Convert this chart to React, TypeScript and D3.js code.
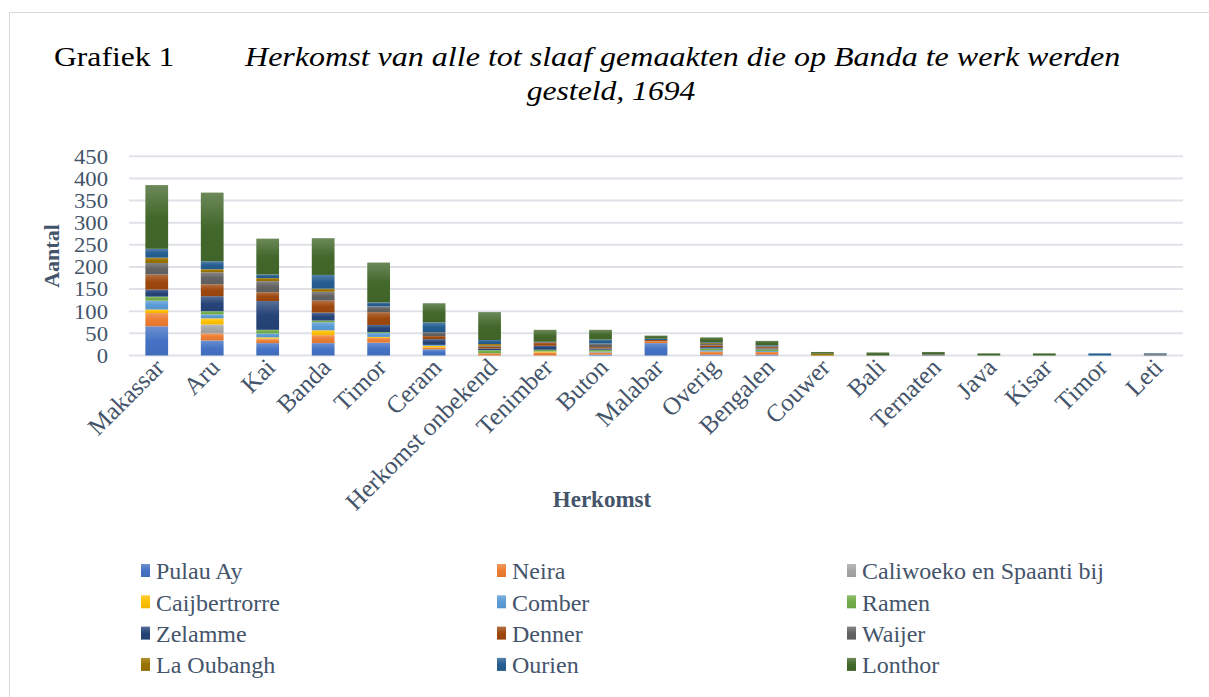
import React from 'react';
import * as d3 from 'd3';

// herkomst (x-as)
const categories = ['Makassar', 'Aru', 'Kai', 'Banda', 'Timor', 'Ceram', 'Herkomst onbekend', 'Tenimber', 'Buton', 'Malabar', 'Overig', 'Bengalen', 'Couwer', 'Bali', 'Ternaten', 'Java', 'Kisar', 'Timor', 'Leti'];

// per plaats van tewerkstelling
const pulauAy = [66, 34, 28, 28, 29, 14, 0, 0, 2, 28, 2, 2, 0, 0, 0, 0, 0, 0, 0];
const neira = [30, 16, 9, 18, 11, 4, 5, 7, 4, 4, 6, 6, 0, 0, 0, 0, 0, 0, 0];
const caliwoeko = [0, 20, 1, 0, 0, 0, 0, 0, 3, 0, 2, 0, 0, 0, 0, 0, 0, 0, 0];
const caijbertrorre = [8, 14, 3, 11, 2, 4, 0, 2, 0, 0, 0, 0, 0, 0, 0, 0, 0, 0, 0];
const comber = [20, 9, 9, 18, 9, 2, 0, 0, 0, 0, 2, 2, 0, 0, 0, 0, 0, 0, 0];
const ramen = [9, 7, 8, 4, 2, 0, 7, 4, 4, 0, 4, 4, 0, 0, 0, 0, 0, 0, 0];
const zelamme = [16, 34, 65, 18, 16, 13, 4, 9, 3, 0, 3, 2, 0, 0, 0, 0, 0, 0, 0];
const denner = [34, 27, 20, 27, 29, 7, 4, 7, 3, 3, 4, 3, 0, 0, 0, 0, 0, 0, 0];
const waijer = [26, 27, 25, 20, 13, 9, 2, 2, 8, 0, 3, 2, 0, 0, 3, 0, 0, 0, 3];
const laOubangh = [12, 7, 7, 7, 0, 0, 4, 0, 0, 0, 2, 0, 4, 0, 0, 0, 0, 0, 0];
const ourien = [20, 18, 8, 31, 9, 22, 9, 0, 9, 3, 2, 2, 0, 0, 0, 0, 0, 5, 2];
const lonthor = [144, 155, 81, 83, 90, 43, 63, 27, 22, 7, 11, 10, 4, 7, 5, 5, 5, 0, 0];

const seriesNames = ['Pulau Ay', 'Neira', 'Caliwoeko en Spaanti bij', 'Caijbertrorre', 'Comber', 'Ramen', 'Zelamme', 'Denner', 'Waijer', 'La Oubangh', 'Ourien', 'Lonthor'];
const seriesValues = [pulauAy, neira, caliwoeko, caijbertrorre, comber, ramen, zelamme, denner, waijer, laOubangh, ourien, lonthor];
const colors = ['#4472C4', '#ED7D31', '#A5A5A5', '#FFC000', '#5B9BD5', '#70AD47', '#264478', '#9E480E', '#636363', '#997300', '#255E91', '#43682B'];

const yTicks = [0, 50, 100, 150, 200, 250, 300, 350, 400, 450];

const W = 1209;
const H = 697;
const plot = { left: 129, right: 1183, top: 156.3, bottom: 355.5 };
const serif = { fontFamily: "'Liberation Serif'" };
const textColor = '#44546A';

export default function App() {
  const rows = categories.map((c, i) => {
    const r: any = { idx: i };
    seriesNames.forEach((s, k) => { r[s] = seriesValues[k][i]; });
    return r;
  });
  const stacked = d3.stack<any>().keys(seriesNames)(rows);

  const x = d3.scaleBand<number>()
    .domain(categories.map((_, i) => i))
    .range([plot.left, plot.right])
    .paddingInner(0.59)
    .paddingOuter(0.295);
  const y = d3.scaleLinear().domain([0, 450]).range([plot.bottom, plot.top]);

  return (
    <div style={{ position: 'absolute', left: 0, top: 0 }}>
      <svg width={W} height={H} style={{ display: 'block', background: '#fff' }}>
        <defs>
          {colors.map((c, k) => (
            <linearGradient key={k} id={`g${k}`} x1="0" y1="0" x2="0" y2="1">
              <stop offset="0" stopColor={d3.interpolateRgb(c, '#ffffff')(0.22)} />
              <stop offset="0.5" stopColor={c} />
              <stop offset="1" stopColor={d3.interpolateRgb(c, '#000000')(0.05)} />
            </linearGradient>
          ))}
        </defs>
        <rect x={9.5} y={12.5} width={W} height={H} fill="#fff" stroke="#D9D9D9" strokeWidth={1} />

        {/* titel (iets breder uitgerekt, zoals in het origineel) */}
        <text transform="translate(54,66) scale(1.13,1)" style={serif} fontSize={28} fill="#000">Grafiek 1</text>
        <text transform="translate(245,66) scale(1.145,1)" style={serif} fontSize={28} fontStyle="italic" fill="#000">Herkomst van alle tot slaaf gemaakten die op Banda te werk werden</text>
        <text transform="translate(611,100) scale(1.13,1)" style={serif} fontSize={28} fontStyle="italic" fill="#000" textAnchor="middle">gesteld, 1694</text>

        {/* rasterlijnen */}
        {yTicks.map(t => (
          <g key={t}>
            <line x1={plot.left} x2={plot.right} y1={y(t)} y2={y(t)} stroke="#DEE2E7" strokeWidth={2} />
            <text transform={`translate(108,${y(t)}) scale(1.08,1)`} dy="0.35em" textAnchor="end" style={serif} fontSize={21} fill={textColor}>{t}</text>
          </g>
        ))}

        {/* staven */}
        {stacked.map((layer, k) => (
          <g key={layer.key} fill={`url(#g${k})`}>
            {layer.map((d, i) => (d[1] - d[0] > 0 ? (
              <rect key={i} x={x(i)} width={x.bandwidth()} y={y(d[1])} height={y(d[0]) - y(d[1])} />
            ) : null))}
          </g>
        ))}

        {/* x-labels */}
        {categories.map((c, i) => {
          const cx = (x(i) as number) + x.bandwidth() / 2 + 9;
          return (
            <text key={i} transform={`translate(${cx},369) rotate(-45)`} textAnchor="end"
              style={serif} fontSize={25} fill={textColor}>{c}</text>
          );
        })}

        {/* astitels */}
        <text transform="translate(59,256) rotate(-90)" textAnchor="middle" style={serif}
          fontSize={22} fontWeight="bold" fill={textColor}>Aantal</text>
        <text x={602} y={507} textAnchor="middle" style={serif} fontSize={23} fontWeight="bold" fill={textColor}>Herkomst</text>

        {/* legenda */}
        {seriesNames.map((s, k) => {
          const col = k % 3;
          const row = Math.floor(k / 3);
          const lx = [141, 497, 847][col];
          const ly = 571 + row * 31.3;
          return (
            <g key={s}>
              <rect x={lx} y={ly - 7} width={9} height={13} fill={`url(#g${k})`} />
              <text x={lx + 15} y={ly} dy="0.35em" style={serif} fontSize={24} fill={textColor}>{s}</text>
            </g>
          );
        })}
      </svg>
    </div>
  );
}
